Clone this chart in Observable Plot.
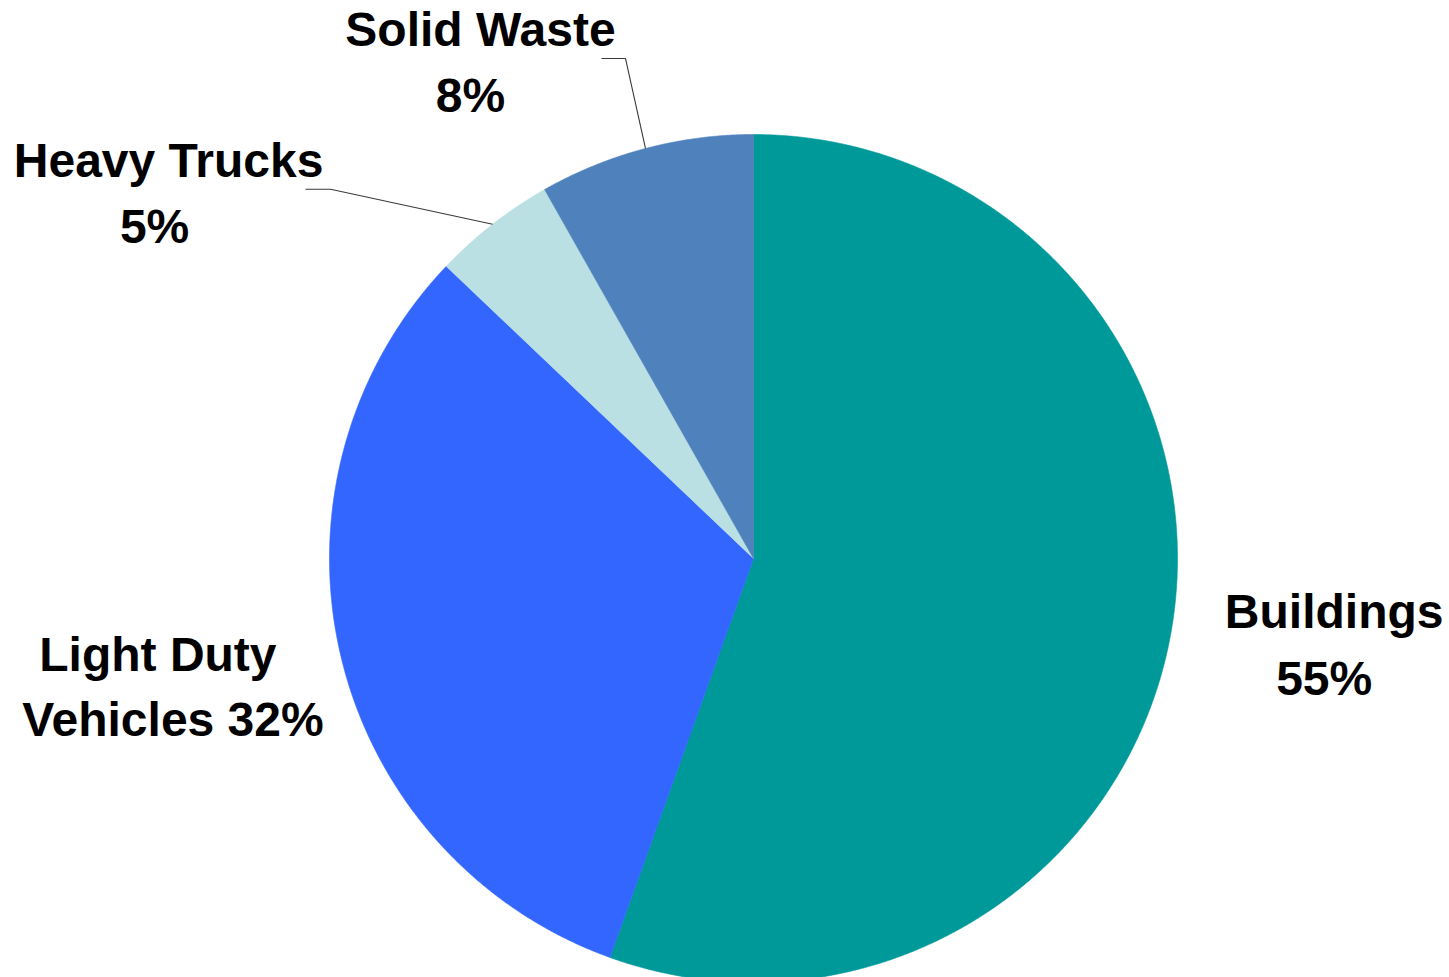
<!DOCTYPE html>
<html>
<head>
<meta charset="utf-8">
<script src="https://cdn.jsdelivr.net/npm/d3@7"></script>
<script src="https://cdn.jsdelivr.net/npm/@observablehq/plot@0.6"></script>
<style>
  html, body { margin: 0; padding: 0; background: #fff; }
  #chart svg { display: block; overflow: hidden; }
</style>
</head>
<body>
<div id="chart"></div>
<script>
// ---- Data ----
const categories = ["Buildings", "Light Duty Vehicles", "Heavy Trucks", "Solid Waste"];
const shares = [55.5, 31.6, 4.7, 8.2];
const labelLines = [
  ["Buildings", "55%"],
  ["Light Duty", "Vehicles 32%"],
  ["Heavy Trucks", "5%"],
  ["Solid Waste", "8%"]
];
const colors = ["#009999", "#3366FF", "#BBE0E3", "#4F81BD"];

// ---- Layout / style config (pixel offsets from slice's outer mid-point) ----
const W = 1449, H = 977;
const R = 424, CX = 753, CY = 558;
const labelOffsets = {
  "Buildings": [[163, -3], [153, 64]],
  "Light Duty Vehicles": [[-183, 15], [-168, 80]],
  "Heavy Trucks": [[-324, -47], [-338, 19]],
  "Solid Waste": [[-165, -102], [-175, -36]]
};
const leaderOffsets = {
  "Heavy Trucks": [[0, 0], [-162, -35], [-187, -35]],
  "Solid Waste": [[0, 0], [-20, -90], [-44, -90]]
};

// ---- Derived geometry ----
const table = categories.map((c, i) => ({name: c, value: shares[i]}));
const arcs = d3.pie().sort(null).value(d => d.value)(table);

const slicePts = [];
arcs.forEach(a => {
  const name = a.data.name;
  slicePts.push({name, x: 0, y: 0});
  const step = Math.PI / 720;
  for (let t = a.startAngle; t < a.endAngle; t += step) {
    slicePts.push({name, x: Math.sin(t), y: Math.cos(t)});
  }
  slicePts.push({name, x: Math.sin(a.endAngle), y: Math.cos(a.endAngle)});
  slicePts.push({name, x: 0, y: 0});
});

const textRows = [];
const leaderPts = [];
arcs.forEach((a, i) => {
  const name = a.data.name;
  const m = (a.startAngle + a.endAngle) / 2;
  const ex = Math.sin(m), ey = Math.cos(m);
  labelLines[i].forEach((t, j) => {
    const [ox, oy] = labelOffsets[name][j];
    textRows.push({name, text: t, x: ex + ox / R, y: ey - oy / R});
  });
  if (leaderOffsets[name]) {
    leaderOffsets[name].forEach(([ox, oy]) => {
      leaderPts.push({name, x: ex + ox / R, y: ey - oy / R});
    });
  }
});

const chart = Plot.plot({
  width: W,
  height: H,
  margin: 0,
  style: {fontFamily: "'Liberation Sans', Arial, sans-serif", background: "#fff"},
  x: {domain: [-1, 1], range: [CX - R, CX + R], axis: null},
  y: {domain: [-1, 1], range: [CY + R, CY - R], axis: null},
  color: {domain: categories, range: colors},
  marks: [
    Plot.line(slicePts, {x: "x", y: "y", z: "name", fill: "name", stroke: "name", strokeWidth: 0.6, curve: "linear"}),
    Plot.line(leaderPts, {x: "x", y: "y", z: "name", stroke: "#3a3a3a", strokeWidth: 1.1, strokeLinecap: "butt", curve: "linear"}),
    Plot.text(textRows, {x: "x", y: "y", text: "text", textAnchor: "middle", lineAnchor: "bottom", fontSize: 48, fontWeight: "bold", fill: "#000"})
  ]
});
document.getElementById("chart").appendChild(chart);
</script>
</body>
</html>
